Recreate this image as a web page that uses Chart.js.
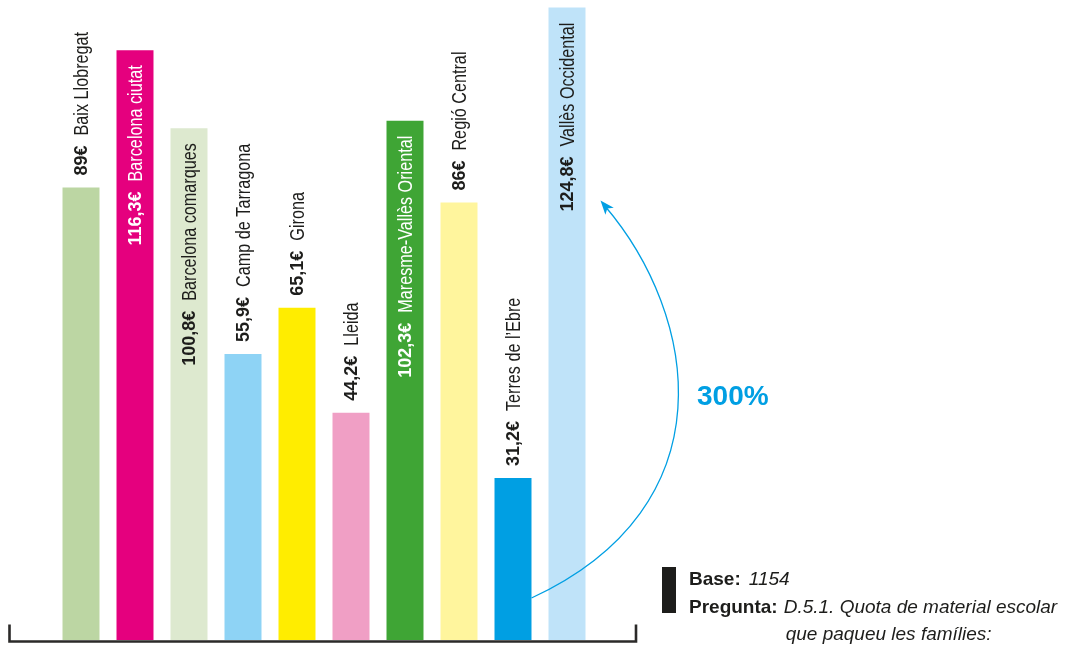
<!DOCTYPE html>
<html><head><meta charset="utf-8">
<script src="https://cdn.jsdelivr.net/npm/chart.js@4"></script>
<style>html,body{margin:0;padding:0;background:#fff}#wrap{position:relative;width:1077px;height:646px}</style>
</head><body><div id="wrap"><canvas id="c"></canvas></div>
<script>
const categories = ["Baix Llobregat","Barcelona ciutat","Barcelona comarques","Camp de Tarragona","Girona","Lleida","Maresme-Vallès Oriental","Regió Central","Terres de l’Ebre","Vallès Occidental"];
const values = [89, 116.3, 100.8, 55.9, 65.1, 44.2, 102.3, 86, 31.2, 124.8];
const valueLabels = ["89€","116,3€","100,8€","55,9€","65,1€","44,2€","102,3€","86€","31,2€","124,8€"];
const barColors = ["#bcd6a3","#e5007e","#dde9cf","#8ed3f5","#ffed00","#f09fc5","#3fa535","#fff59d","#009fe3","#bfe3f9"];
const increaseLabel = "300%";
const baseLabel = "Base:";
const baseValue = "1154";
const questionLabel = "Pregunta:";
const questionLines = ["D.5.1. Quota de material escolar", "que paqueu les famílies:"];

const DARK = "#1d1d1b";
const BLUE = "#009fe3";
const VAL_FONT = 'bold 18px "Liberation Sans", Arial, sans-serif';
const NAME_FONT = '20px "Liberation Sans", Arial, sans-serif';
const NAME_SQUEEZE = 0.81;

function isDarkColor(hex){
  const r=parseInt(hex.substr(1,2),16), g=parseInt(hex.substr(3,2),16), b=parseInt(hex.substr(5,2),16);
  return (0.299*r+0.587*g+0.114*b) < 150;
}

const labelPlugin = {
  id: 'barLabels',
  afterDatasetsDraw(chart){
    const ctx = chart.ctx;
    const meta = chart.getDatasetMeta(0);
    meta.data.forEach((bar, i) => {
      ctx.save();
      ctx.font = VAL_FONT; const vw = ctx.measureText(valueLabels[i]).width;
      ctx.font = NAME_FONT; const nw = ctx.measureText(categories[i]).width * NAME_SQUEEZE;
      const gap = 10, total = vw + gap + nw;
      const top = bar.y;
      const fitsAbove = top - 12 - total > 0;
      let start, color;
      if (fitsAbove) { start = 12; color = DARK; }
      else { start = -15 - total; color = isDarkColor(barColors[i]) ? "#ffffff" : DARK; }
      ctx.translate(bar.x + 1, top);
      ctx.rotate(-Math.PI/2);
      ctx.textBaseline = 'middle';
      ctx.textAlign = 'left';
      ctx.fillStyle = color;
      ctx.font = VAL_FONT; ctx.fillText(valueLabels[i], start, 0);
      ctx.translate(start + vw + gap, 0);
      ctx.scale(NAME_SQUEEZE, 1);
      ctx.font = NAME_FONT; ctx.fillText(categories[i], 0, 0);
      ctx.restore();
    });
  }
};

const decoPlugin = {
  id: 'deco',
  afterDraw(chart){
    const ctx = chart.ctx, ca = chart.chartArea;
    const meta = chart.getDatasetMeta(0);
    // bracket
    ctx.save();
    ctx.strokeStyle = "#2b2a29";
    ctx.lineWidth = 2.6;
    const bl = ca.left - 44.5, br = ca.right + 42, by = ca.bottom + 1.5;
    ctx.beginPath();
    ctx.moveTo(bl, by - 17); ctx.lineTo(bl, by); ctx.lineTo(br, by); ctx.lineTo(br, by - 17);
    ctx.stroke();
    ctx.restore();

    // arrow from lowest to highest bar
    const minI = values.indexOf(Math.min(...values));
    const maxI = values.indexOf(Math.max(...values));
    const b0 = meta.data[minI], b1 = meta.data[maxI];
    const sx = b0.x + b0.width/2, sy = ca.bottom - 42;
    const ex = b1.x + b1.width/2 + 15, ey = b1.y + 193;
    const c1x = sx + 199, c1y = sy - 92, c2x = ex + 98, c2y = ey + 115;
    ctx.save();
    ctx.strokeStyle = BLUE; ctx.fillStyle = BLUE; ctx.lineWidth = 1.3;
    ctx.beginPath();
    ctx.moveTo(sx, sy);
    ctx.bezierCurveTo(c1x, c1y, c2x, c2y, ex + 4, ey + 5);
    ctx.stroke();
    let dx = ex - c2x, dy = ey - c2y; const L = Math.hypot(dx, dy); dx/=L; dy/=L;
    const hl = 14, hw = 5.5;
    const bx = ex - dx*hl, byy = ey - dy*hl;
    ctx.beginPath();
    ctx.moveTo(ex, ey);
    ctx.lineTo(bx - dy*hw, byy + dx*hw);
    ctx.lineTo(ex - dx*hl*0.75, ey - dy*hl*0.75);
    ctx.lineTo(bx + dy*hw, byy - dx*hw);
    ctx.closePath();
    ctx.fill();
    ctx.font = 'bold 28px "Liberation Sans", Arial, sans-serif';
    ctx.textAlign = 'left'; ctx.textBaseline = 'alphabetic';
    ctx.fillText(increaseLabel, 697, 405);
    ctx.restore();

    // footnote
    ctx.save();
    ctx.fillStyle = "#1d1d1b";
    ctx.fillRect(662, 567, 14, 46);
    ctx.textBaseline = 'alphabetic'; ctx.textAlign = 'left';
    ctx.font = 'bold 19px "Liberation Sans", Arial, sans-serif';
    ctx.fillText(baseLabel, 689, 585);
    const bw = ctx.measureText(baseLabel).width;
    ctx.fillText(questionLabel, 689, 613);
    const qw = ctx.measureText(questionLabel).width;
    ctx.font = 'italic 19px "Liberation Sans", Arial, sans-serif';
    ctx.fillText(baseValue, 689 + bw + 8, 585);
    ctx.fillText(questionLines[0], 689 + qw + 6, 613);
    ctx.fillText(questionLines[1], 689 + qw + 8, 640);
    ctx.restore();
  }
};

new Chart(document.getElementById('c'), {
  type: 'bar',
  data: {
    labels: categories,
    datasets: [{ data: values, base: -1, backgroundColor: barColors, borderWidth: 0, barPercentage: 0.685, categoryPercentage: 1 }]
  },
  options: {
    responsive: true,
    maintainAspectRatio: false,
    animation: false,
    events: [],
    layout: { padding: { left: 54, right: 483, top: 0, bottom: 6 } },
    plugins: { legend: { display: false }, tooltip: { enabled: false } },
    scales: {
      x: { display: false },
      y: { display: false, min: -1, max: 126.3 }
    }
  },
  plugins: [labelPlugin, decoPlugin]
});
</script>
</body></html>
